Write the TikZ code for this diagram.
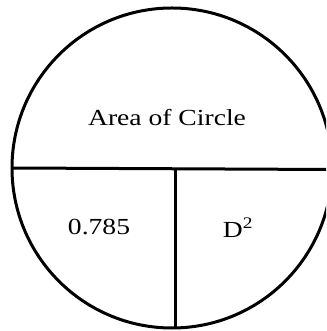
\documentclass[tikz,border=0pt]{standalone}
\usepackage{fontspec}
\setmainfont{Liberation Serif}
\tikzset{
  ln/.style={line width=3pt, black},
  lbl/.style={inner sep=0pt, font=\fontsize{23}{26}\selectfont},
}
\newcommand{\wide}[1]{\scalebox{1.2}[1]{#1}}
\begin{document}
\begin{tikzpicture}[x=1pt,y=1pt]
\useasboundingbox (0,0) rectangle (326,331);
\clip (0,0) rectangle (326,331);
\node[circle, draw, ln, minimum size=320pt, inner sep=0pt] (c) at (172,163) {};
\coordinate (hl) at (12,163);
\coordinate (hr) at (330,161.5);
\coordinate (vt) at (175,162);
\coordinate (vb) at (175,2);
\draw[ln] (hl) -- (hr);
\draw[ln] (vt) -- (vb);
\node[lbl] (area) at (167,213) {\wide{Area of Circle}};
\node[lbl] (k) at (99,104) {\wide{0.785}};
\node[lbl] (d) at (238,103) {\wide{D\textsuperscript{2}}};
\end{tikzpicture}
\end{document}
